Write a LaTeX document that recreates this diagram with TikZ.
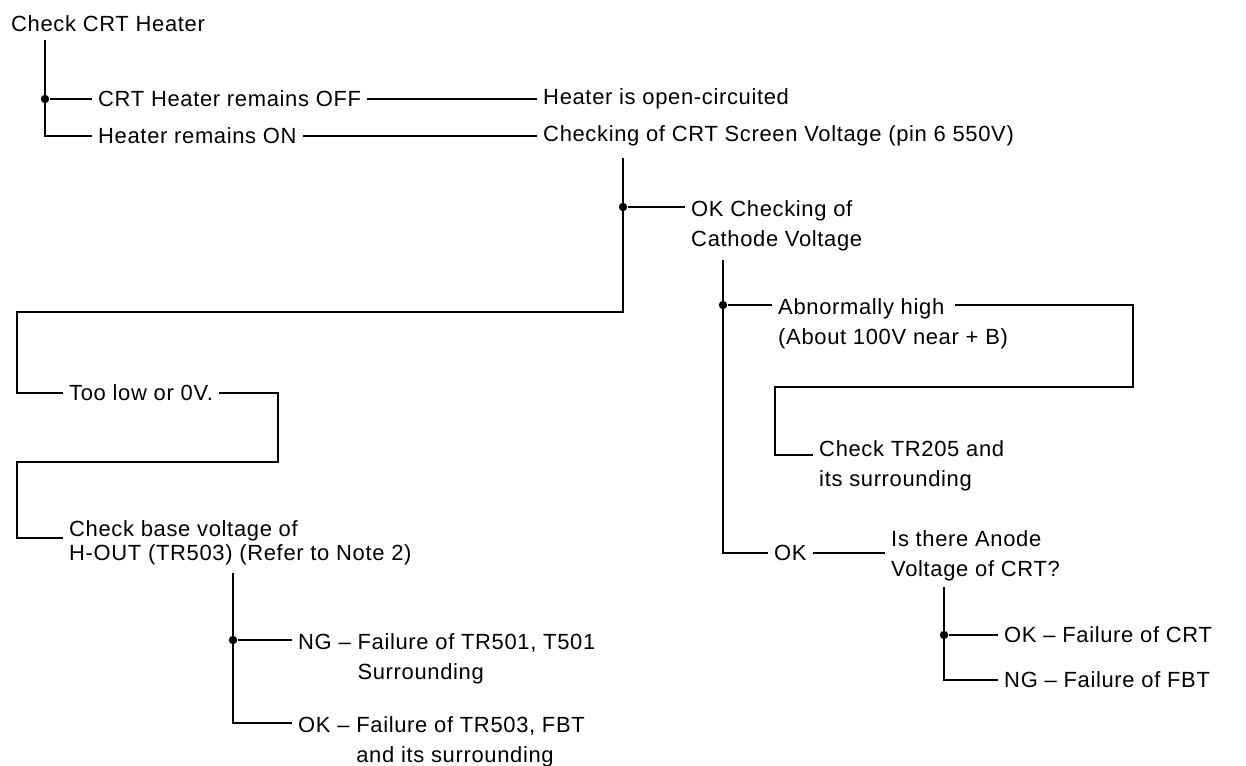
\documentclass[tikz,border=0pt]{standalone}
\usepackage{fontspec}
\setmainfont{Liberation Sans}[LetterSpace=3]

\begin{document}
\begin{tikzpicture}[x=0.02cm,y=-0.02cm,line width=1.4pt]
	\tikzset{txt/.style = {anchor=west,inner xsep=1mm,inner ysep=0pt,align=left,font=\fontsize{12.5pt}{17pt}\selectfont}}
	\tikzset{txtm/.style = {txt,anchor=north west}}
	\tikzset{dot/.style = {circle,fill,inner sep=0pt,minimum size=4.8pt}}
	\useasboundingbox (0,0) rectangle (1246,765);

	% texts
	\node[txt] (chk) at (5,24) {Check CRT Heater};
	\node[txt] (off) at (92,99) {CRT Heater remains OFF};
	\node[txt] (open) at (537,99) {Heater is open-circuited};
	\node[txt] (on) at (92,136) {Heater remains ON};
	\node[txt] (scr) at (537,136) {Checking of CRT Screen Voltage (pin 6 550V)};
	\node[txtm] (cath) at (685,199) {OK Checking of\\Cathode Voltage};
	\node[txt] (low) at (63,393) {Too low or 0V.};
	\node[txtm] (base) at (63,519) {Check base voltage of\\[-3pt]H-OUT (TR503) (Refer to Note 2)};
	\node[txtm] (ng1) at (292,632) {NG -- Failure of TR501, T501\\\phantom{NG -- }Surrounding};
	\node[txtm] (ok1) at (292,715) {OK -- Failure of TR503, FBT\\\phantom{OK -- }and its surrounding};
	\node[txtm] (high) at (772,297) {Abnormally high\\(About 100V near + B)};
	\node[txtm] (tr) at (813,439) {Check TR205 and\\its surrounding};
	\node[txt] (ok2) at (768,553) {OK};
	\node[txtm] (anode) at (885,529) {Is there Anode\\Voltage of CRT?};
	\node[txt] (ok3) at (998,635) {OK -- Failure of CRT};
	\node[txt] (ng2) at (998,680) {NG -- Failure of FBT};

	% branch points
	\coordinate (a0) at (45,40);
	\node[dot] (a1) at (45,99) {};
	\coordinate (a2) at (45,136);
	\coordinate (b0) at (623,158);
	\node[dot] (b1) at (623,207) {};
	\coordinate (b2) at (623,312);
	\coordinate (b3) at (17,312);
	\coordinate (c1) at (278,462);
	\coordinate (c2) at (17,462);
	\coordinate (c3) at (63,538);
	\coordinate (d0) at (233,573);
	\node[dot] (d1) at (233,640) {};
	\coordinate (d2) at (233,723);
	\coordinate (e0) at (723,260);
	\node[dot] (e1) at (723,305) {};
	\coordinate (e2) at (723,553);
	\coordinate (h0) at (955,305);
	\coordinate (f1) at (1133,387);
	\coordinate (f2) at (775,387);
	\coordinate (f3) at (813,455);
	\coordinate (k0) at (944,587);
	\node[dot] (k1) at (944,635) {};
	\coordinate (k2) at (944,680);

	% edges
	\draw (a0) -- (a2) -- (on.west);
	\draw (a1) -- (off.west);
	\draw (off.east) -- (open.west);
	\draw (on.east) -- (scr.west);
	\draw (b0) -- (b2) -- (b3) |- (low.west);
	\draw (b1) -- (b1 -| cath.west);
	\draw (low.east) -| (c1) -- (c2) |- (c3);
	\draw (d0) -- (d2) -- (d2 -| ok1.west);
	\draw (d1) -- (d1 -| ng1.west);
	\draw (e0) -- (e2) -- (ok2.west);
	\draw (e1) -- (e1 -| high.west);
	\draw (h0) -| (f1) -- (f2) |- (f3);
	\draw (ok2.east) -- (ok2.east -| anode.west);
	\draw (k0) -- (k2) -- (ng2.west);
	\draw (k1) -- (ok3.west);
\end{tikzpicture}
\end{document}
